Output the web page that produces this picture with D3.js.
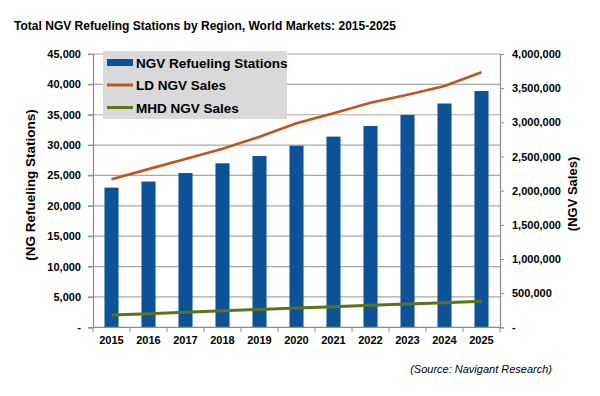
<!DOCTYPE html>
<html>
<head>
<meta charset="utf-8">
<script src="https://cdn.jsdelivr.net/npm/d3@7"></script>
<style>
  body { margin: 0; background: #fff; }
  text { font-family: "Liberation Sans", Arial, sans-serif; }
</style>
</head>
<body>
<svg id="chart" width="600" height="396"></svg>
<script>
// chart data
var years = ["2015", "2016", "2017", "2018", "2019", "2020", "2021", "2022", "2023", "2024", "2025"];
var stations = [23000, 24000, 25400, 27000, 28200, 29900, 31400, 33150, 34950, 36850, 38900];
var ldSales = [2166000, 2315000, 2463000, 2614000, 2789000, 2985000, 3132000, 3287000, 3404000, 3531000, 3732000];
var mhdSales = [180000, 200000, 221000, 241000, 261000, 282000, 301000, 321000, 342000, 361000, 382000];
var leftTicks = [0, 5000, 10000, 15000, 20000, 25000, 30000, 35000, 40000, 45000];
var rightTicks = [0, 500000, 1000000, 1500000, 2000000, 2500000, 3000000, 3500000, 4000000];

var colors = {
  bar: "#0b5299",
  ld: "#c0561c",
  mhd: "#5d7317",
  grid: "#a8a8a8",
  axis: "#8c8c8c"
};

// plot box (note: "top" is reserved on window, so use plot* names)
var plotLeft = 93, plotRight = 500, plotTop = 54, plotBottom = 327.3;
var svg = d3.select("#chart");

var x = d3.scaleBand().domain(years).range([plotLeft, plotRight]).paddingInner(0.62).paddingOuter(0.31);
var xc = d3.scaleBand().domain(years).range([plotLeft, plotRight]);
var yL = d3.scaleLinear().domain([0, 45000]).range([plotBottom, plotTop]);
var yR = d3.scaleLinear().domain([0, 4000000]).range([plotBottom, plotTop]);
var fmt = d3.format(",");
var tickFmt = function (d) { return d === 0 ? "-" : fmt(d); };

// gridlines
svg.append("g")
  .selectAll("line")
  .data(leftTicks.slice(1))
  .join("line")
  .attr("x1", plotLeft - 5).attr("x2", plotRight)
  .attr("y1", d => yL(d)).attr("y2", d => yL(d))
  .attr("stroke", colors.grid).attr("stroke-width", 1.2);

// bars
svg.append("g")
  .selectAll("rect")
  .data(stations)
  .join("rect")
  .attr("x", (d, i) => x(years[i]))
  .attr("width", x.bandwidth())
  .attr("y", d => yL(d))
  .attr("height", d => plotBottom - yL(d))
  .attr("fill", colors.bar);

// left axis
var axL = svg.append("g")
  .attr("transform", "translate(" + plotLeft + ",0)")
  .call(d3.axisLeft(yL).tickValues(leftTicks).tickFormat(tickFmt).tickSize(5).tickPadding(7));
axL.select(".domain").attr("stroke", colors.axis).attr("stroke-width", 1.2);
axL.selectAll(".tick line").attr("stroke", colors.axis);

// right axis
var axR = svg.append("g")
  .attr("transform", "translate(" + plotRight + ",0)")
  .call(d3.axisRight(yR).tickValues(rightTicks).tickFormat(tickFmt).tickSize(4).tickPadding(8));
axR.select(".domain").attr("stroke", colors.axis).attr("stroke-width", 1.2);
axR.selectAll(".tick line").attr("stroke", colors.axis);

// bottom axis with ticks between categories
svg.append("line")
  .attr("x1", plotLeft).attr("x2", plotRight)
  .attr("y1", plotBottom).attr("y2", plotBottom)
  .attr("stroke", colors.axis).attr("stroke-width", 1.2);
svg.append("g")
  .selectAll("line")
  .data(years.concat(["end"]))
  .join("line")
  .attr("x1", (d, i) => plotLeft + i * xc.step()).attr("x2", (d, i) => plotLeft + i * xc.step())
  .attr("y1", plotBottom).attr("y2", plotBottom + 5)
  .attr("stroke", colors.axis);
svg.append("g")
  .selectAll("text")
  .data(years)
  .join("text")
  .attr("x", d => xc(d) + xc.bandwidth() / 2)
  .attr("y", plotBottom + 17)
  .attr("text-anchor", "middle")
  .attr("font-size", 11)
  .attr("font-weight", "bold")
  .text(d => d);

svg.selectAll(".tick text")
  .attr("font-size", 11)
  .attr("font-weight", "bold")
  .attr("fill", "#000")
  .style("font-family", "'Liberation Sans', Arial, sans-serif");

// lines
var lineR = d3.line()
  .x((d, i) => xc(years[i]) + xc.bandwidth() / 2)
  .y(d => yR(d));

svg.append("path")
  .datum(ldSales)
  .attr("d", lineR)
  .attr("fill", "none")
  .attr("stroke", colors.ld)
  .attr("stroke-width", 2.6);

svg.append("path")
  .datum(mhdSales)
  .attr("d", lineR)
  .attr("fill", "none")
  .attr("stroke", colors.mhd)
  .attr("stroke-width", 3);

// legend
var legend = svg.append("g");
legend.append("rect")
  .attr("x", 103).attr("y", 51)
  .attr("width", 184).attr("height", 68)
  .attr("fill", "#d9d9d9");
var legendItems = [
  { label: "NGV Refueling Stations", color: colors.bar, kind: "bar" },
  { label: "LD NGV Sales", color: colors.ld, kind: "line" },
  { label: "MHD NGV Sales", color: colors.mhd, kind: "line" }
];
legendItems.forEach(function (item, i) {
  var cy = 62.5 + i * 22.5;
  if (item.kind === "bar") {
    legend.append("rect")
      .attr("x", 107).attr("y", cy - 3.5)
      .attr("width", 26).attr("height", 7)
      .attr("fill", item.color);
  } else {
    legend.append("line")
      .attr("x1", 107).attr("x2", 133)
      .attr("y1", cy).attr("y2", cy)
      .attr("stroke", item.color).attr("stroke-width", 3);
  }
  legend.append("text")
    .attr("x", 136).attr("y", cy + 5)
    .attr("font-size", 13.5)
    .attr("font-weight", "bold")
    .text(item.label);
});

// title (the original face is narrower, so squeeze to its width)
svg.append("text")
  .attr("x", 14).attr("y", 29.5)
  .attr("font-size", 13.5)
  .attr("font-weight", "bold")
  .attr("textLength", 382)
  .attr("lengthAdjust", "spacingAndGlyphs")
  .text("Total NGV Refueling Stations by Region, World Markets: 2015-2025");

// axis titles
svg.append("text")
  .attr("transform", "translate(35,185) rotate(-90)")
  .attr("text-anchor", "middle")
  .attr("font-size", 13.5)
  .attr("font-weight", "bold")
  .text("(NG Refueling Stations)");

svg.append("text")
  .attr("transform", "translate(577,194) rotate(-90)")
  .attr("text-anchor", "middle")
  .attr("font-size", 13)
  .attr("font-weight", "bold")
  .text("(NGV Sales)");

// source
svg.append("text")
  .attr("x", 552).attr("y", 373)
  .attr("text-anchor", "end")
  .attr("font-size", 11)
  .attr("font-style", "italic")
  .text("(Source: Navigant Research)");
</script>
</body>
</html>
